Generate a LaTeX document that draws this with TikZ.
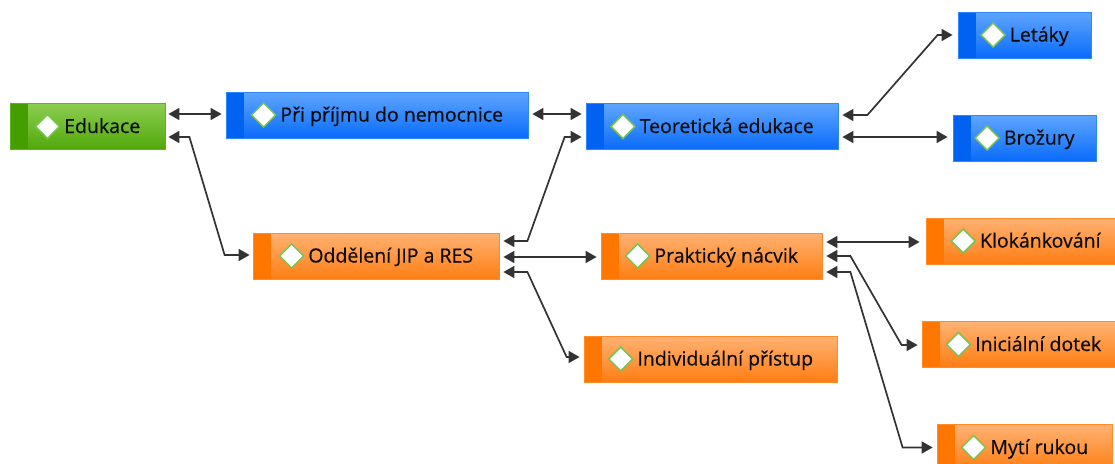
\documentclass[tikz,border=0pt]{standalone}
\usepackage{fontspec}
\setmainfont{Open Sans}
\newfontfamily\topicfont{Open Sans}[FakeBold=0.5]
\usetikzlibrary{arrows.meta}

\definecolor{bluetop}{RGB}{95,165,255}
\definecolor{bluebot}{RGB}{10,108,250}
\definecolor{bluestrip}{RGB}{0,98,240}
\definecolor{bluebord}{RGB}{45,135,255}
\definecolor{greentop}{RGB}{140,205,80}
\definecolor{greenbot}{RGB}{80,168,10}
\definecolor{greenstrip}{RGB}{68,158,0}
\definecolor{greenbord}{RGB}{95,180,30}
\definecolor{orangetop}{RGB}{255,178,115}
\definecolor{orangebot}{RGB}{255,125,18}
\definecolor{orangestrip}{RGB}{255,118,0}
\definecolor{orangebord}{RGB}{255,140,40}
\definecolor{gemgreen}{RGB}{120,195,80}

% small diamond in front of every topic
\newcommand{\gem}{\tikz[baseline=-6.5pt]\filldraw[draw=gemgreen,fill=white,line width=1.5pt] (0pt,12pt)--(12pt,0pt)--(0pt,-12pt)--(-12pt,0pt)--cycle;\hspace{4pt}}

\begin{document}
\begin{tikzpicture}[x=1pt,y=-1pt,
    topic/.style={minimum height=46, inner sep=0pt, line width=0.8pt,
        font=\topicfont\fontsize{19.5}{22}\selectfont, text=black!95},
    bluetopic/.style={topic, draw=bluebord, top color=bluetop, bottom color=bluebot,
        path picture={\fill[bluestrip] (path picture bounding box.south west) rectangle ([xshift=18pt]path picture bounding box.north west);}},
    greentopic/.style={topic, draw=greenbord, top color=greentop, bottom color=greenbot,
        path picture={\fill[greenstrip] (path picture bounding box.south west) rectangle ([xshift=18pt]path picture bounding box.north west);}},
    orangetopic/.style={topic, draw=orangebord, top color=orangetop, bottom color=orangebot,
        path picture={\fill[orangestrip] (path picture bounding box.south west) rectangle ([xshift=18pt]path picture bounding box.north west);}},
    link/.style={draw=black!80, line width=1.7pt,
        {Triangle[length=11pt,width=12pt]}-{Triangle[length=11pt,width=12pt]}}]
    \useasboundingbox (0,0) rectangle (1115,463);
    \clip (0,0) rectangle (1115,463);

    % topics
    \node[greentopic, minimum width=155] (edu) at (87.5,126.5) {\gem Edukace};
    \node[bluetopic, minimum width=302] (pri) at (377,115) {\gem Při příjmu do nemocnice};
    \node[bluetopic, minimum width=252] (teo) at (712,126.5) {\gem Teoretická edukace};
    \node[bluetopic, minimum width=133] (let) at (1024.5,35) {\gem Letáky};
    \node[bluetopic, minimum width=143] (bro) at (1024.5,138) {\gem Brožury};
    \node[orangetopic, minimum width=246] (odd) at (376,256) {\gem Oddělení JIP a RES};
    \node[orangetopic, minimum width=221] (pra) at (711.5,256) {\gem Praktický nácvik};
    \node[orangetopic, minimum width=253] (ind) at (710.5,359) {\gem Individuální přístup};
    \node[orangetopic, minimum width=199] (klo) at (1025.5,241) {\gem Klokánkování};
    \node[orangetopic, minimum width=203] (ini) at (1023.5,344.5) {\gem Iniciální dotek};
    \node[orangetopic, minimum width=175] (myt) at (1024.5,447.5) {\gem Mytí rukou};

    % connectors
    \draw[link] ([xshift=3,yshift=12.5]edu.east) -- ([xshift=-4,yshift=1]pri.west);
    \draw[link] ([xshift=3,yshift=-10.5]edu.east) -- ++(21,0) -- ([xshift=-28,yshift=1]odd.west) -- ([xshift=-3,yshift=1]odd.west);
    \draw[link] ([xshift=4,yshift=1]pri.east) -- ([xshift=-4,yshift=12.5]teo.west);
    \draw[link] ([xshift=4,yshift=15]odd.east) -- ++(24,0) -- ([xshift=-21,yshift=-10.5]teo.west) -- ([xshift=-4,yshift=-10.5]teo.west);
    \draw[link] ([xshift=4,yshift=-1]odd.east) -- ([xshift=-4,yshift=-1]pra.west);
    \draw[link] ([xshift=4,yshift=-16]odd.east) -- ++(24,0) -- ([xshift=-17,yshift=2]ind.west) -- ([xshift=-4,yshift=2]ind.west);
    \draw[link] ([xshift=4,yshift=11.5]teo.east) -- ++(25,0) -- ([xshift=-20]let.west) -- ([xshift=-5]let.west);
    \draw[link] ([xshift=4,yshift=-10.5]teo.east) -- ([xshift=-5,yshift=1]bro.west);
    \draw[link] ([xshift=4,yshift=14]pra.east) -- ([xshift=-6,yshift=-1]klo.west);
    \draw[link] ([xshift=4]pra.east) -- ++(24,0) -- ([xshift=-20,yshift=-0.5]ini.west) -- ([xshift=-4,yshift=-0.5]ini.west);
    \draw[link] ([xshift=4,yshift=-16]pra.east) -- ++(24,0) -- ([xshift=-34]myt.west) -- ([xshift=-4]myt.west);
\end{tikzpicture}
\end{document}
